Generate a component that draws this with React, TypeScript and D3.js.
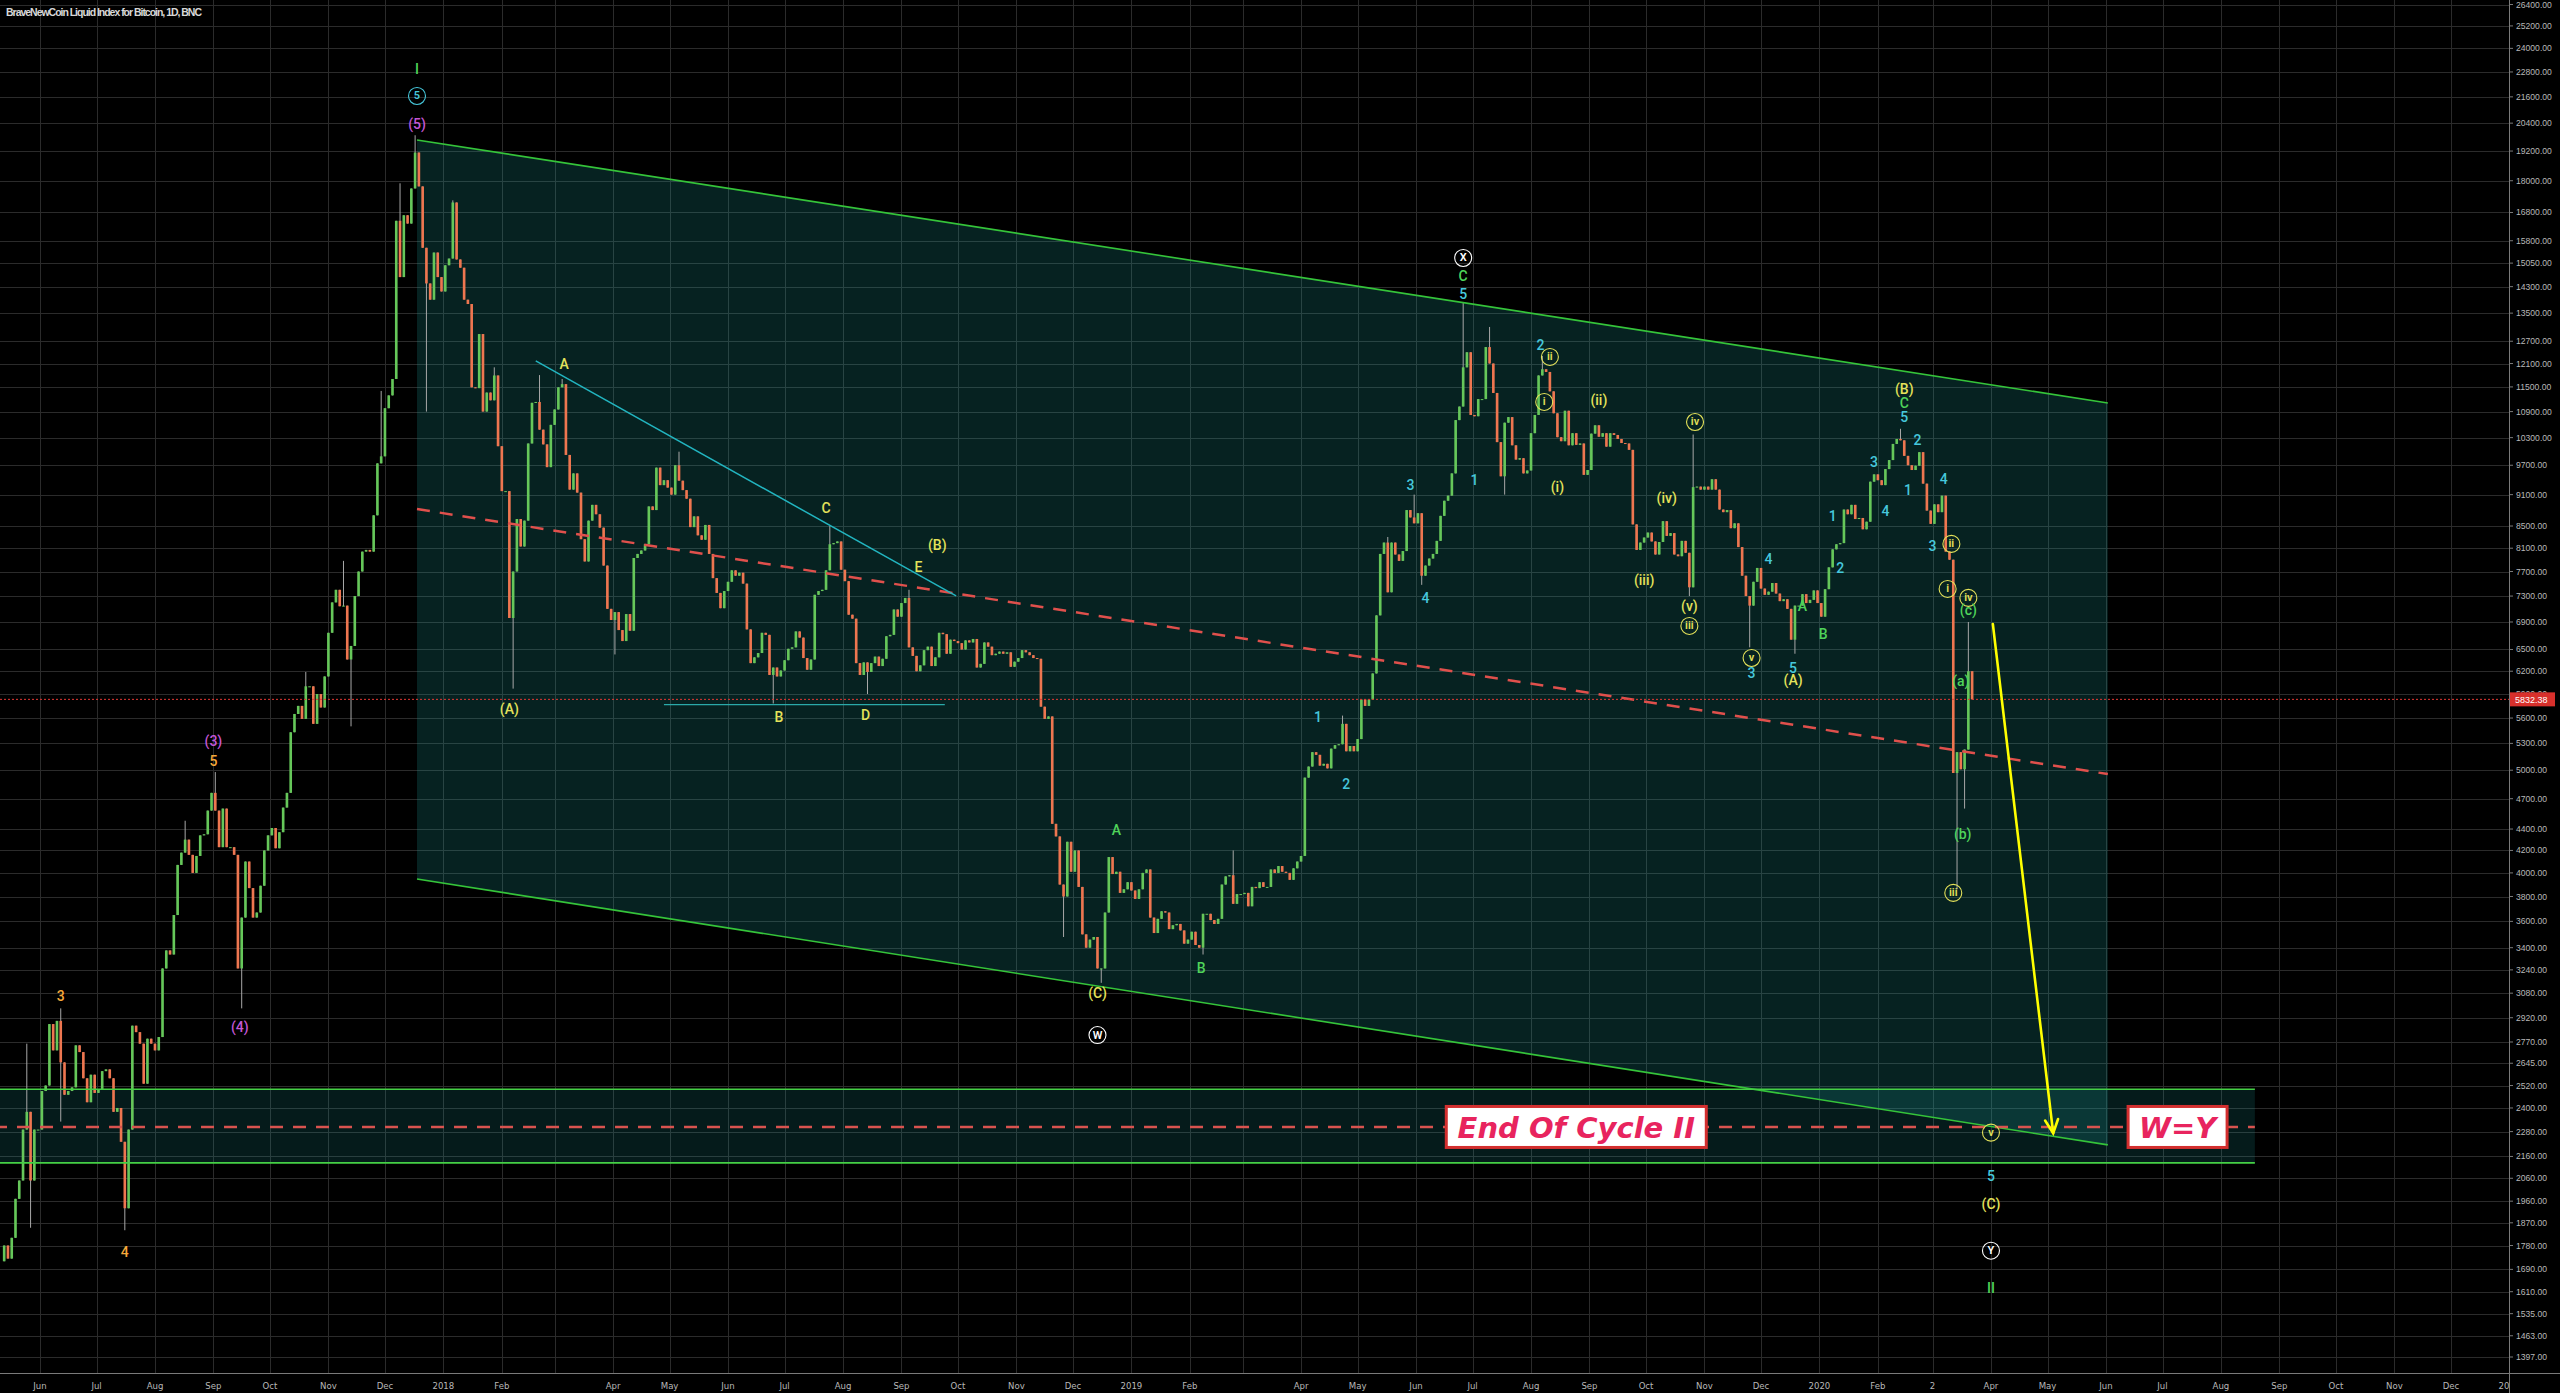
import React from 'react';
import * as d3 from 'd3';

const W = 2560;
const H = 1393;
const PLOT_R = 2509;
const PLOT_B = 1373;

const title = 'BraveNewCoin Liquid Index for Bitcoin, 1D, BNC';

// ---- price data: closes of consecutive 2-day periods, each segment with its own start date ----
const open2017 = 1720;
const start2017 = '2017-05-12';
const closes2017 = [
  1780, 1730, 1810, 1970, 2050, 2290, 2380, 2050, 2290, 2290, // May
  2490, 2520, 2880, 2720, 2900, 2650, 2470, 2490, 2510, 2750, 2710, 2560, 2430, 2580, 2480, // Jun
  2500, 2600, 2610, 2560, 2380, 2400, 2230, 1930, 2290, 2870, 2830, 2760, 2530, 2790, 2760, 2720, // Jul
  2800, 3250, 3380, 3350, 3650, 4070, 4180, 4300, 4160, 4000, 4150, 4340, 4350, 4580, 4760, // Aug
  4580, 4230, 4600, 4230, 4230, 4160, 3250, 3630, 4100, 3870, 3630, 3670, 3890, 4200, 4340, // Sep
  4410, 4220, 4370, 4610, 4760, 5430, 5650, 5750, 5590, 6000, 6000, 5530, 5900, 5730, 6130, 6740, // Oct
  7200, 7400, 7140, 7150, 6360, 6550, 7300, 7700, 8040, 8070, 8040, 8700, 9740, 9890, 10980, // Nov
  11290, 11700, 16500, 14600, 16700, 16400, 17700, 19140, 17780, 15560, 14400, 13900, 15400, 14600, 14150, // Dec
];
const start2018 = '2018-01-01';
const closes2018 = [
  14980, 15200, 17170, 15170, 14900, 13900, 13770, 11490, 11470, 12900, 10900, 11360, 11170, 11790, 10110, 9170, // Jan
  9170, 6960, 7700, 8630, 8130, 8600, 10170, 11110, 11130, 10480, 10150, 9660, 10590, 10950, // Feb
  11490, 11570, 9920, 9200, 9530, 9140, 8260, 7870, 8600, 8900, 8720, 8470, 7800, 7100, 6930, // Mar
  7050, 6780, 6620, 7020, 6770, 7930, 8000, 8060, 8170, 8870, 8800, 9650, 9290, 9390, 9240, // Apr
  9100, 9700, 9380, 9190, 9020, 8480, 8680, 8330, 8250, 8520, 8000, 7590, 7350, 7110, 7380, 7530, // May
  7720, 7630, 7680, 7500, 6790, 6310, 6390, 6450, 6740, 6710, 6150, 6250, 6130, 6210, 6350, // Jun
  6510, 6530, 6760, 6670, 6380, 6220, 6360, 7320, 7380, 7400, 7720, 8170, 8190, 8220, 7730, // Jul
  7540, 7010, 6950, 6310, 6150, 6320, 6190, 6310, 6400, 6270, 6370, 6690, 6710, 7090, 6980, 7190, // Aug
  7270, 6530, 6410, 6200, 6280, 6490, 6540, 6270, 6390, 6740, 6720, 6440, 6640, 6620, 6590, // Sep
  6500, 6630, 6600, 6650, 6250, 6300, 6600, 6540, 6420, 6440, 6470, 6440, 6460, 6260, 6330, // Oct
  6380, 6490, 6460, 6420, 6380, 6370, 5740, 5590, 5620, 4450, 4330, 3900, 3800, 4280, 4010, // Nov
  4200, 3880, 3500, 3400, 3460, 3480, 3250, 3250, 3670, 4140, 3990, 4010, 3830, 3860, 3920, 3850, // Dec
];
const start2019 = '2019-01-02';
const closes2019 = [
  3780, 3860, 4000, 4030, 3630, 3510, 3620, 3680, 3670, 3540, 3570, 3580, 3530, 3430, 3460, // Jan
  3520, 3420, 3400, 3660, 3660, 3610, 3580, 3620, 3900, 3970, 3980, 3740, 3820, 3820, // Feb
  3830, 3720, 3880, 3870, 3920, 3880, 3880, 4030, 4000, 4060, 4010, 4000, 3940, 4040, 4100, 4150, // Mar
  4920, 5040, 5200, 5170, 5050, 5070, 5020, 5240, 5280, 5290, 5530, 5210, 5270, 5210, 5350, // Apr
  5830, 5750, 5830, 6170, 7000, 8000, 8200, 7360, 8200, 7990, 7880, 8050, 8800, 8660, 8550, // May
  8740, 7630, 7800, 7920, 8000, 8230, 8690, 8980, 9080, 9530, 10700, 11020, 12000, 12400, 10820, // Jun
  10790, 11200, 11200, 12540, 12100, 11350, 10200, 9470, 10640, 10770, 10130, 9820, 9850, 9530, 9590, 10400, // Jul
  10820, 11790, 11950, 11880, 11390, 10860, 10310, 10220, 10920, 10130, 10400, 10140, 10170, 9500, 9600, // Aug
  10390, 10580, 10320, 10400, 10100, 10400, 10360, 10270, 10180, 10170, 10030, 8530, 8070, 8200, 8290, // Sep
  8380, 8220, 7990, 8210, 8590, 8320, 8370, 7990, 7960, 8230, 8020, 7440, 9250, 9260, 9200, 9260, // Oct
  9200, 9410, 9200, 8810, 8760, 8800, 8460, 8550, 8120, 7630, 7300, 7150, 7530, 7760, 7420, // Nov
  7320, 7370, 7510, 7340, 7220, 7250, 7100, 6640, 7150, 7150, 7330, 7190, 7240, 7390, 7190, // Dec
];
const start2020 = '2020-01-01';
const closes2020 = [
  6980, 7410, 7770, 8080, 8170, 8190, 8810, 8720, 8900, 8630, 8650, 8440, 8580, 9360, 9510, 9390, // Jan
  9290, 9620, 9810, 10160, 10270, 10240, 9900, 9700, 9600, 9690, 9980, 9320, 8790, 8540, // Feb
  8910, 8760, 9080, 8040, 7900, 4970, 5200, 5010, 5230, 6200, 5832.38, // Mar
];

const highWicks: [string, number][] = [
  ['2017-05-25', 2760], ['2017-06-11', 2980], ['2017-08-17', 4480], ['2017-09-02', 4980],
  ['2017-10-20', 6190], ['2017-11-08', 7880], ['2017-11-29', 11400], ['2017-12-08', 17900],
  ['2017-12-17', 19870], ['2018-01-06', 17250], ['2018-01-28', 12000], ['2018-02-20', 11800],
  ['2018-03-05', 11700], ['2018-05-05', 9990], ['2018-07-24', 8500], ['2018-09-04', 7400],
  ['2019-02-24', 4200], ['2019-04-23', 5630], ['2019-05-16', 8300], ['2019-05-30', 9100],
  ['2019-06-26', 13800], ['2019-07-10', 13100], ['2019-08-06', 12300], ['2019-10-26', 10370],
  ['2020-02-13', 10500], ['2020-03-20', 6900],
];
const lowWicks: [string, number][] = [
  ['2017-05-27', 1850], ['2017-06-12', 2330], ['2017-07-16', 1840], ['2017-09-15', 2980],
  ['2017-11-12', 5500], ['2017-12-22', 10900], ['2018-02-06', 5970], ['2018-04-01', 6430],
  ['2018-06-24', 5780], ['2018-08-14', 5900], ['2018-11-25', 3480], ['2018-12-15', 3150],
  ['2019-02-07', 3350], ['2019-06-04', 7480], ['2019-07-17', 9100], ['2019-10-23', 7300],
  ['2019-11-25', 6530], ['2019-12-18', 6440], ['2020-03-13', 3860], ['2020-03-17', 4600],
];

const lastPrice = 5832.38;

const priceTicks = [
  26400, 25200, 24000, 22800, 21600, 20400, 19200, 18000, 16800, 15800, 15050, 14300, 13500,
  12700, 12100, 11500, 10900, 10300, 9700, 9100, 8500, 8100, 7700, 7300, 6900, 6500, 6200,
  5900, 5600, 5300, 5000, 4700, 4400, 4200, 4000, 3800, 3600, 3400, 3240, 3080, 2920, 2770,
  2645, 2520, 2400, 2280, 2160, 2060, 1960, 1870, 1780, 1690, 1610, 1535, 1463, 1397,
];

const monthDates = [
  '2017-06-01', '2017-07-01', '2017-08-01', '2017-09-01', '2017-10-01', '2017-11-01', '2017-12-01',
  '2018-01-01', '2018-02-01', '2018-03-01', '2018-04-01', '2018-05-01', '2018-06-01', '2018-07-01',
  '2018-08-01', '2018-09-01', '2018-10-01', '2018-11-01', '2018-12-01', '2019-01-01', '2019-02-01',
  '2019-03-01', '2019-04-01', '2019-05-01', '2019-06-01', '2019-07-01', '2019-08-01', '2019-09-01',
  '2019-10-01', '2019-11-01', '2019-12-01', '2020-01-01', '2020-02-01', '2020-03-01', '2020-04-01',
  '2020-05-01', '2020-06-01', '2020-07-01', '2020-08-01', '2020-09-01', '2020-10-01', '2020-11-01',
  '2020-12-01', '2021-01-01',
];
const monthLabels = [
  'Jun', 'Jul', 'Aug', 'Sep', 'Oct', 'Nov', 'Dec',
  '2018', 'Feb', '', 'Apr', 'May', 'Jun', 'Jul',
  'Aug', 'Sep', 'Oct', 'Nov', 'Dec', '2019', 'Feb',
  '', 'Apr', 'May', 'Jun', 'Jul', 'Aug', 'Sep',
  'Oct', 'Nov', 'Dec', '2020', 'Feb', '2', 'Apr',
  'May', 'Jun', 'Jul', 'Aug', 'Sep', 'Oct', 'Nov',
  'Dec', '2021',
];

// ---- drawings (date, price) ----
const channelTop: [string, number][] = [['2017-12-18', 19670], ['2020-06-02', 11107]];
const channelBottom: [string, number][] = [['2017-12-18', 3947], ['2020-06-02', 2215]];
const channelMid: [string, number][] = [['2017-12-18', 8819], ['2020-06-02', 4958]];
const bandDates = ['2017-04-01', '2020-08-19'];
const bandPrices = [2500, 2303, 2130]; // top, dashed middle, bottom
const triangleLine: [string, number][] = [['2018-02-19', 12168], ['2018-09-30', 7302]];
const supportLine: [string, number][] = [['2018-04-28', 5765], ['2018-09-24', 5765]];
const arrowLine: [string, number][] = [['2020-04-02', 6869], ['2020-05-04', 2272]];

const noteTexts = ['End Of Cycle II', 'W=Y'];
const noteAnchors: [string, number][] = [['2019-08-25', 2303], ['2020-07-09', 2303]];
const noteWidths = [260, 99];

type Lab = [string, string, number, string, number];
const waveLabels: Lab[] = [
  ['I', '2017-12-18', 22947, 'green', 0],
  ['5', '2017-12-18', 21640, 'cyan', 1],
  ['(5)', '2017-12-18', 20363, 'magenta', 0],
  ['(3)', '2017-09-01', 5328, 'magenta', 0],
  ['5', '2017-09-01', 5101, 'orange', 0],
  ['3', '2017-06-12', 3062, 'orange', 0],
  ['4', '2017-07-16', 1756, 'orange', 0],
  ['(4)', '2017-09-15', 2862, 'magenta', 0],
  ['A', '2018-03-06', 12088, 'yellow', 0],
  ['(A)', '2018-02-05', 5711, 'yellow', 0],
  ['B', '2018-06-28', 5613, 'yellow', 0],
  ['C', '2018-07-23', 8839, 'yellow', 0],
  ['D', '2018-08-13', 5637, 'yellow', 0],
  ['E', '2018-09-10', 7777, 'yellow', 0],
  ['(B)', '2018-09-20', 8157, 'yellow', 0],
  ['A', '2018-12-24', 4391, 'green', 0],
  ['(C)', '2018-12-14', 3081, 'yellow', 0],
  ['W', '2018-12-14', 2812, 'white', 1],
  ['B', '2019-02-07', 3253, 'green', 0],
  ['1', '2019-04-10', 5613, 'cyan', 0],
  ['2', '2019-04-25', 4852, 'cyan', 0],
  ['3', '2019-05-29', 9292, 'cyan', 0],
  ['4', '2019-06-06', 7271, 'cyan', 0],
  ['1', '2019-07-02', 9396, 'cyan', 0],
  ['X', '2019-06-26', 15219, 'white', 1],
  ['C', '2019-06-26', 14634, 'green', 0],
  ['5', '2019-06-26', 14073, 'cyan', 0],
  ['2', '2019-08-06', 12598, 'cyan', 0],
  ['ii', '2019-08-11', 12274, 'yellow', 1],
  ['i', '2019-08-08', 11130, 'yellow', 1],
  ['(i)', '2019-08-15', 9253, 'yellow', 0],
  ['(ii)', '2019-09-06', 11178, 'yellow', 0],
  ['iv', '2019-10-27', 10656, 'yellow', 1],
  ['(iv)', '2019-10-12', 9035, 'yellow', 0],
  ['(iii)', '2019-09-30', 7561, 'yellow', 0],
  ['(v)', '2019-10-24', 7145, 'yellow', 0],
  ['iii', '2019-10-24', 6841, 'yellow', 1],
  ['v', '2019-11-26', 6381, 'yellow', 1],
  ['3', '2019-11-26', 6178, 'cyan', 0],
  ['4', '2019-12-05', 7912, 'cyan', 0],
  ['5', '2019-12-18', 6244, 'cyan', 0],
  ['(A)', '2019-12-18', 6083, 'yellow', 0],
  ['A', '2019-12-23', 7145, 'green', 0],
  ['B', '2020-01-03', 6729, 'green', 0],
  ['1', '2020-01-08', 8688, 'cyan', 0],
  ['2', '2020-01-12', 7760, 'cyan', 0],
  ['3', '2020-01-30', 9768, 'cyan', 0],
  ['4', '2020-02-05', 8783, 'cyan', 0],
  ['(B)', '2020-02-15', 11450, 'yellow', 0],
  ['C', '2020-02-15', 11107, 'green', 0],
  ['5', '2020-02-15', 10774, 'cyan', 0],
  ['2', '2020-02-22', 10249, 'cyan', 0],
  ['1', '2020-02-17', 9193, 'cyan', 0],
  ['4', '2020-03-07', 9415, 'cyan', 0],
  ['3', '2020-03-01', 8140, 'cyan', 0],
  ['ii', '2020-03-11', 8176, 'yellow', 1],
  ['i', '2020-03-09', 7414, 'yellow', 1],
  ['iv', '2020-03-20', 7271, 'yellow', 1],
  ['(c)', '2020-03-20', 7083, 'green', 0],
  ['(a)', '2020-03-16', 6069, 'green', 0],
  ['(b)', '2020-03-17', 4353, 'green', 0],
  ['iii', '2020-03-12', 3830, 'yellow', 1],
  ['v', '2020-04-01', 2275, 'yellow', 1],
  ['5', '2020-04-01', 2070, 'cyan', 0],
  ['(C)', '2020-04-01', 1950, 'yellow', 0],
  ['Y', '2020-04-01', 1760, 'white', 1],
  ['II', '2020-04-01', 1624, 'green', 0],
];

const COLORS: Record<string, string> = {
  green: '#4fd45a',
  cyan: '#46c8dc',
  magenta: '#c457d6',
  orange: '#f5a83a',
  yellow: '#e4e25a',
  white: '#ffffff',
};

const P = (s: string) => d3.utcParse('%Y-%m-%d')(s) as Date;

type Candle = { t: Date; o: number; c: number; hi: number; lo: number };

function buildCandles(): Candle[] {
  const segs: [string, number[]][] = [
    [start2017, closes2017],
    [start2018, closes2018],
    [start2019, closes2019],
    [start2020, closes2020],
  ];
  const hw = highWicks.map(([d, p]) => [P(d).getTime(), p]);
  const lw = lowWicks.map(([d, p]) => [P(d).getTime(), p]);
  let prev = open2017;
  const out: Candle[] = [];
  for (const [s, arr] of segs) {
    const start = P(s);
    arr.forEach((c, i) => {
      const t0 = d3.utcDay.offset(start, 2 * i);
      const t1 = d3.utcDay.offset(start, 2 * i + 2);
      let hi = Math.max(prev, c);
      let lo = Math.min(prev, c);
      for (const [t, p] of hw) if (t >= t0.getTime() && t < t1.getTime()) hi = Math.max(hi, p);
      for (const [t, p] of lw) if (t >= t0.getTime() && t < t1.getTime()) lo = Math.min(lo, p);
      out.push({ t: t0, o: prev, c, hi, lo });
      prev = c;
    });
  }
  return out;
}

export default function App() {
  const x = d3.scaleTime().domain([P('2017-06-01'), P('2021-01-01')]).range([40, 40 + 1310 * 1.885]);
  const y = d3.scaleLog().domain([26400, 1397]).range([4.5, 1357]);
  const candles = buildCandles();
  const pt = (d: [string, number]) => [x(P(d[0])), y(d[1])] as [number, number];
  const dayW = x(P('2017-06-02')) - x(P('2017-06-01'));
  const bodyW = dayW * 2 * 0.7;

  const ct0 = pt(channelTop[0]), ct1 = pt(channelTop[1]);
  const cb0 = pt(channelBottom[0]), cb1 = pt(channelBottom[1]);
  const cm0 = pt(channelMid[0]), cm1 = pt(channelMid[1]);
  const bx0 = x(P(bandDates[0])), bx1 = x(P(bandDates[1]));
  const byT = y(bandPrices[0]), byM = y(bandPrices[1]), byB = y(bandPrices[2]);
  const tl0 = pt(triangleLine[0]), tl1 = pt(triangleLine[1]);
  const sl0 = pt(supportLine[0]), sl1 = pt(supportLine[1]);
  const a0 = pt(arrowLine[0]), a1 = pt(arrowLine[1]);
  const ang = Math.atan2(a1[1] - a0[1], a1[0] - a0[0]);
  const headLen = 15;
  const head = [ang + Math.PI - 0.45, ang + Math.PI + 0.45].map(
    (a) => [a1[0] + headLen * Math.cos(a), a1[1] + headLen * Math.sin(a)] as [number, number]
  );
  const yLast = y(lastPrice);
  const fmt = d3.format('.2f');

  return (
    <svg
      width={W}
      height={H}
      style={{ position: 'absolute', left: 0, top: 0, display: 'block', background: '#000' }}
      fontFamily="Roboto, 'Liberation Sans', sans-serif"
    >
      <defs>
        <clipPath id="plot">
          <rect x={0} y={0} width={PLOT_R} height={PLOT_B} />
        </clipPath>
        <clipPath id="xaxis">
          <rect x={0} y={PLOT_B} width={PLOT_R} height={H - PLOT_B} />
        </clipPath>
      </defs>
      <rect x={0} y={0} width={W} height={H} fill="#000" />

      {/* grid */}
      <g stroke="#2b2b2b" strokeWidth={1}>
        {priceTicks.map((p) => (
          <line key={'h' + p} x1={0} x2={PLOT_R} y1={Math.round(y(p)) + 0.5} y2={Math.round(y(p)) + 0.5} />
        ))}
        {monthDates.map((d) => (
          <line key={'v' + d} x1={Math.round(x(P(d))) + 0.5} x2={Math.round(x(P(d))) + 0.5} y1={0} y2={PLOT_B} />
        ))}
      </g>

      <g clipPath="url(#plot)">
        {/* channel fill */}
        <polygon
          points={[ct0, ct1, cb1, cb0].map((p) => p.join(',')).join(' ')}
          fill="rgb(30,170,165)"
          fillOpacity={0.2}
        />
        {/* band fill */}
        <rect x={bx0} y={byT} width={bx1 - bx0} height={byB - byT} fill="rgb(30,170,165)" fillOpacity={0.16} />

        {/* candles */}
        <g>
          {candles.map((k, i) => {
            const cx = x(d3.utcHour.offset(k.t, 12)) + dayW * 0.5;
            const up = k.c >= k.o;
            const yt = y(Math.max(k.o, k.c));
            const yb = y(Math.min(k.o, k.c));
            return (
              <g key={i}>
                <line x1={cx} x2={cx} y1={y(k.hi)} y2={y(k.lo)} stroke="#a8a8a8" strokeWidth={1} />
                <rect
                  x={cx - bodyW / 2}
                  y={yt}
                  width={bodyW}
                  height={Math.max(1, yb - yt)}
                  fill={up ? '#66c75a' : '#ee7650'}
                />
              </g>
            );
          })}
        </g>

        {/* channel borders */}
        <line x1={ct0[0]} y1={ct0[1]} x2={ct1[0]} y2={ct1[1]} stroke="#35c43a" strokeWidth={1.6} />
        <line x1={cb0[0]} y1={cb0[1]} x2={cb1[0]} y2={cb1[1]} stroke="#35c43a" strokeWidth={1.6} />
        {/* band borders */}
        <line x1={bx0} y1={byT} x2={bx1} y2={byT} stroke="#45d045" strokeWidth={1.6} />
        <line x1={bx0} y1={byB} x2={bx1} y2={byB} stroke="#45d045" strokeWidth={1.6} />
        {/* dashed lines */}
        <line x1={cm0[0]} y1={cm0[1]} x2={cm1[0]} y2={cm1[1]} stroke="#e0504c" strokeWidth={2.5} strokeDasharray="13,10" />
        <line x1={bx0} y1={byM} x2={bx1} y2={byM} stroke="#d9534f" strokeWidth={2.5} strokeDasharray="13,10" />
        {/* triangle line + support */}
        <line x1={tl0[0]} y1={tl0[1]} x2={tl1[0]} y2={tl1[1]} stroke="#22b5c0" strokeWidth={1.5} />
        <line x1={sl0[0]} y1={sl0[1]} x2={sl1[0]} y2={sl1[1]} stroke="#2aa9a9" strokeWidth={1.2} />
        {/* last price line */}
        <line x1={0} x2={PLOT_R} y1={yLast} y2={yLast} stroke="#e53935" strokeWidth={1} strokeDasharray="2,2" />
        {/* arrow */}
        <g stroke="#ffff00" strokeWidth={2.6} fill="none" strokeLinecap="round">
          <line x1={a0[0]} y1={a0[1]} x2={a1[0]} y2={a1[1]} />
          <polyline points={`${head[0][0]},${head[0][1]} ${a1[0]},${a1[1]} ${head[1][0]},${head[1][1]}`} />
        </g>

        {/* wave labels */}
        {waveLabels.map(([t, d, p, col, circ], i) => {
          const lx = x(P(d));
          const ly = y(p);
          const c = COLORS[col];
          return circ ? (
            <g key={'l' + i}>
              <circle cx={lx} cy={ly} r={8.5} fill="none" stroke={c} strokeWidth={1.1} />
              <text x={lx} y={ly} fill={c} fontSize={11} fontWeight={600} textAnchor="middle" dominantBaseline="central">
                {t}
              </text>
            </g>
          ) : (
            <text key={'l' + i} x={lx} y={ly} fill={c} fontSize={14} fontWeight={500} textAnchor="middle" dominantBaseline="central">
              {t}
            </text>
          );
        })}

        {/* text notes */}
        {noteTexts.map((t, i) => {
          const [nx, ny] = pt(noteAnchors[i]);
          const w = noteWidths[i];
          return (
            <g key={'n' + i}>
              <rect x={nx - w / 2} y={ny - 20.5} width={w} height={41} fill="#ffffff" stroke="#d32f2f" strokeWidth={3} />
              <text
                x={nx}
                y={ny + 1}
                fill="#e8245e"
                fontSize={29}
                fontWeight="bold"
                fontStyle="italic"
                fontFamily="'DejaVu Sans', sans-serif"
                textAnchor="middle"
                dominantBaseline="central"
              >
                {t}
              </text>
            </g>
          );
        })}
      </g>

      {/* title */}
      <text x={6} y={15.5} fill="#d8d8d8" fontSize={10.5} fontWeight={600} fontFamily="'Liberation Sans', sans-serif" textLength={196}>
        {title}
      </text>

      {/* right axis */}
      <line x1={PLOT_R + 0.5} x2={PLOT_R + 0.5} y1={0} y2={H} stroke="#7a7a7a" strokeWidth={1} />
      <g fontSize={8.6} fill="#b8b8b8" fontFamily="'Liberation Sans', sans-serif">
        {priceTicks.map((p) => (
          <g key={'t' + p}>
            <line x1={PLOT_R} x2={PLOT_R + 4} y1={y(p)} y2={y(p)} stroke="#7a7a7a" />
            <text x={PLOT_R + 7} y={y(p)} dominantBaseline="central">
              {fmt(p)}
            </text>
          </g>
        ))}
      </g>
      <rect x={PLOT_R + 1} y={yLast - 7} width={45} height={14} fill="#d8302c" />
      <text x={PLOT_R + 6} y={yLast + 0.5} fill="#ffffff" fontSize={9} dominantBaseline="central" fontFamily="'Liberation Sans', sans-serif">
        {fmt(lastPrice)}
      </text>

      {/* bottom axis */}
      <line x1={0} x2={W} y1={PLOT_B + 0.5} y2={PLOT_B + 0.5} stroke="#7a7a7a" strokeWidth={1} />
      <g clipPath="url(#xaxis)" fontSize={9.5} fill="#b8b8b8" fontFamily="'Liberation Sans Narrow', 'DejaVu Sans Condensed', 'Liberation Sans', sans-serif">
        {monthDates.map((d, i) =>
          monthLabels[i] ? (
            <text key={'x' + d} x={x(P(d))} y={PLOT_B + 12} textAnchor="middle" dominantBaseline="central">
              {monthLabels[i]}
            </text>
          ) : null
        )}
      </g>
    </svg>
  );
}
